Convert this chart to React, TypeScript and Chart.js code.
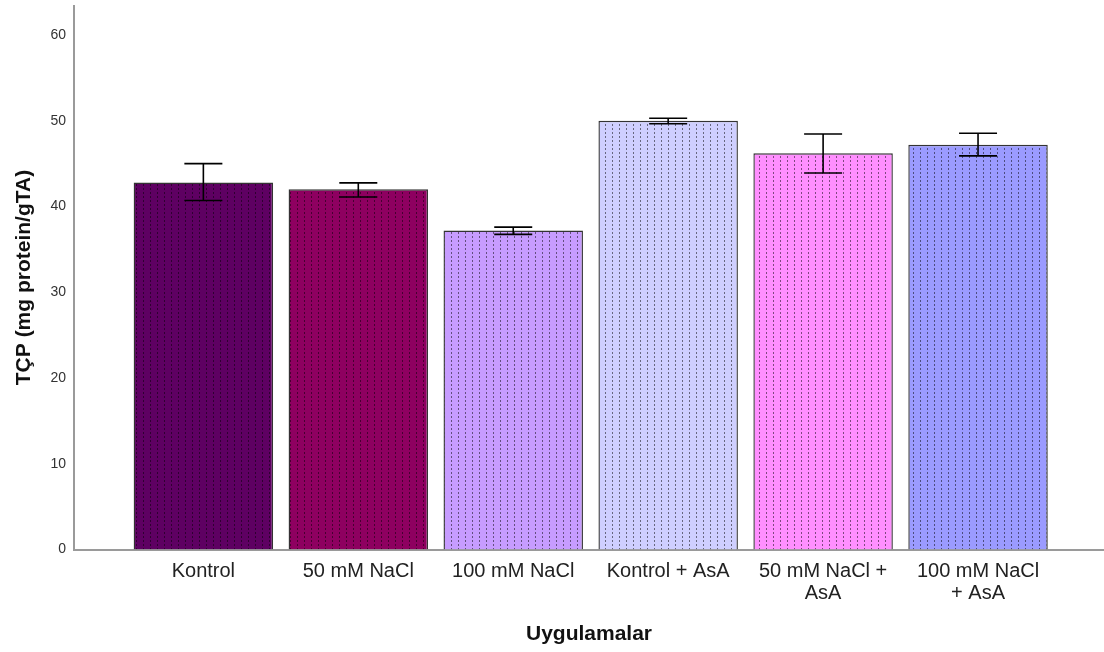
import React, { useEffect, useRef } from "react";
import { Chart, registerables } from "chart.js";

Chart.register(...registerables);

const categories: string[][] = [
  ["Kontrol"],
  ["50 mM NaCl"],
  ["100 mM NaCl"],
  ["Kontrol + AsA"],
  ["50 mM NaCl +", "AsA"],
  ["100 mM NaCl", "+ AsA"],
];
const means = [42.8, 42.0, 37.2, 50.0, 46.2, 47.2];
const errLow = [40.7, 41.1, 36.75, 49.65, 43.9, 45.9];
const errHigh = [45.0, 42.75, 37.6, 50.3, 48.45, 48.55];
const barColors = ["#5e0062", "#8e0060", "#c79cff", "#cfcfff", "#ff8fff", "#9b9bff"];
const yTicks = [0, 10, 20, 30, 40, 50, 60];

function makePattern(base: string): CanvasPattern | string {
  const c = document.createElement("canvas");
  c.width = 7;
  c.height = 4;
  const g = c.getContext("2d");
  if (!g) return base;
  g.fillStyle = base;
  g.fillRect(0, 0, 7, 4);
  g.fillStyle = "rgba(0,0,0,0.5)";
  g.fillRect(3, 0, 1, 2);
  const p = g.createPattern(c, "repeat");
  return p || base;
}

const errorBarPlugin = {
  id: "errorBars",
  afterDatasetsDraw(chart: any) {
    const { ctx, scales } = chart;
    const xs = scales.x;
    const ys = scales.y;
    ctx.save();
    ctx.strokeStyle = "#000";
    ctx.lineWidth = 1.6;
    for (let i = 0; i < means.length; i++) {
      const x = xs.getPixelForValue(i);
      const yl = ys.getPixelForValue(errLow[i]);
      const yh = ys.getPixelForValue(errHigh[i]);
      const half = 19;
      ctx.beginPath();
      ctx.moveTo(x, yl);
      ctx.lineTo(x, yh);
      ctx.moveTo(x - half, yh);
      ctx.lineTo(x + half, yh);
      ctx.moveTo(x - half, yl);
      ctx.lineTo(x + half, yl);
      ctx.stroke();
    }
    ctx.restore();
  },
};

export default function App() {
  const ref = useRef<HTMLCanvasElement | null>(null);
  useEffect(() => {
    if (!ref.current) return;
    const chart = new Chart(ref.current, {
      type: "bar",
      data: {
        datasets: [
          {
            data: means.map((v, i) => ({ x: i, y: v })),
            backgroundColor: barColors.map((c) => makePattern(c)) as any,
            borderColor: "#333333",
            borderWidth: 1.4,
            barPercentage: 0.9,
            categoryPercentage: 1.0,
          },
        ],
      },
      options: {
        animation: false,
        responsive: true,
        maintainAspectRatio: false,
        layout: { padding: { top: 5.5, left: 0, right: 0, bottom: 0 } },
        plugins: {
          legend: { display: false },
          tooltip: { enabled: false },
        },
        scales: {
          x: {
            type: "linear",
            offset: false,
            min: -0.835,
            max: 5.813,
            afterBuildTicks: (s: any) => {
              s.ticks = categories.map((_, i) => ({ value: i }));
            },
            afterFit: (s: any) => {
              s.height = 102.5;
              s.paddingLeft = 0;
              s.paddingRight = 0;
            },
            grid: { display: false, drawTicks: false },
            border: { display: true, color: "#9a9a9a", width: 2 },
            ticks: {
              autoSkip: false,
              maxRotation: 0,
              padding: 11,
              color: "#222",
              font: { family: "Liberation Sans, Arial, sans-serif", size: 20, lineHeight: 1.1 },
              callback: (v: any) => categories[Math.round(Number(v))] || "",
            },
            title: {
              display: true,
              text: "Uygulamalar",
              color: "#111",
              padding: { top: 0, bottom: 5 },
              font: { family: "Liberation Sans, Arial, sans-serif", size: 21, weight: "bold" },
            },
          },
          y: {
            min: 0,
            max: 63.44,
            afterBuildTicks: (s: any) => {
              s.ticks = yTicks.map((v) => ({ value: v }));
            },
            afterFit: (s: any) => {
              s.width = 74;
              s.paddingTop = 0;
              s.paddingBottom = 0;
            },
            grid: { display: false, drawTicks: false },
            border: { display: true, color: "#9a9a9a", width: 2 },
            ticks: {
              padding: 8,
              color: "#333",
              font: { family: "Liberation Sans, Arial, sans-serif", size: 14 },
            },
            title: {
              display: true,
              text: "TÇP (mg protein/gTA)",
              color: "#111",
              padding: { top: 12, bottom: 0 },
              font: { family: "Liberation Sans, Arial, sans-serif", size: 21, weight: "bold" },
            },
          },
        },
      },
      plugins: [errorBarPlugin],
    });
    return () => chart.destroy();
  }, []);
  return (
    <div style={{ position: "fixed", left: 0, top: 0, width: 1104, height: 652, background: "#fff" }}>
      <canvas ref={ref} />
    </div>
  );
}
